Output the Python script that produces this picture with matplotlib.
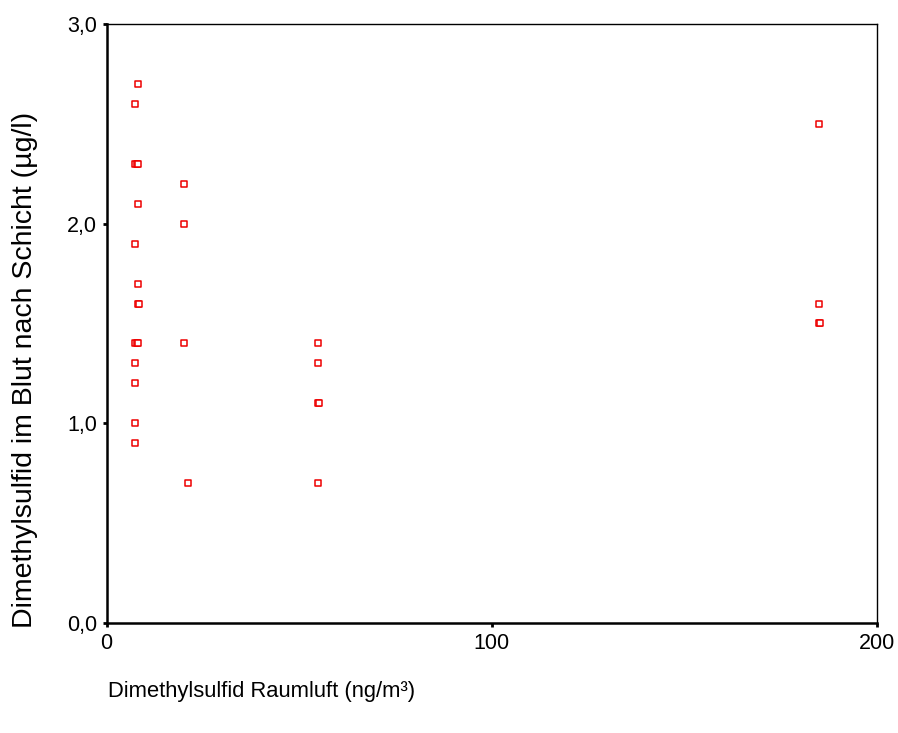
import matplotlib
matplotlib.use("Agg")
import matplotlib.pyplot as plt
from matplotlib.ticker import FuncFormatter

plt.rcParams["font.family"] = ["Liberation Sans", "DejaVu Sans"]

# Dimethylsulfid Raumluft (ng/m3) vs. Dimethylsulfid im Blut (ug/l)
luft = [8.2, 7.5, 7.5, 7.9, 8.3, 8.3, 7.5, 8.3, 8.2, 8.4,
        7.5, 7.9, 8.3, 7.5, 7.5, 7.5, 7.5,
        20.1, 20.1, 20.1, 21.1,
        55.0, 55.0, 55.0, 55.2, 55.0,
        185.0, 185.0, 185.0, 185.2]
blut = [2.7, 2.6, 2.3, 2.3, 2.3, 2.1, 1.9, 1.7, 1.6, 1.6,
        1.4, 1.4, 1.4, 1.3, 1.2, 1.0, 0.9,
        2.2, 2.0, 1.4, 0.7,
        1.4, 1.3, 1.1, 1.1, 0.7,
        2.5, 1.6, 1.5, 1.5]

xticks = [0, 100, 200]
yticks = [0.0, 1.0, 2.0, 3.0]

fig = plt.figure(figsize=(8.98, 7.33), dpi=100)
ax = fig.add_axes([0.1186, 0.1501, 0.858, 0.8172])

ax.scatter(luft, blut, marker="s", s=24, facecolors="white",
           edgecolors="#ee0000", linewidths=1.1, zorder=3)

ax.set_xlim(0, 200)
ax.set_ylim(0, 3.0)
ax.set_xticks(xticks)
ax.set_yticks(yticks)
ax.yaxis.set_major_formatter(FuncFormatter(lambda v, p: f"{v:.1f}".replace(".", ",")))
ax.tick_params(direction="out", length=3, width=2, labelsize=15.5, pad=4)

for s in ax.spines.values():
    s.set_linewidth(1.0)
ax.spines["left"].set_linewidth(1.8)
ax.spines["bottom"].set_linewidth(1.8)

ax.set_ylabel("Dimethylsulfid im Blut nach Schicht (µg/l)", fontsize=20.5, va="center")
ax.yaxis.set_label_coords(-0.106, 0.422)
ax.set_xlabel("Dimethylsulfid Raumluft (ng/m³)", fontsize=15.8, loc="left", va="center")
ax.xaxis.set_label_coords(0.002, -0.115)

fig.savefig("out.png", dpi=100)
